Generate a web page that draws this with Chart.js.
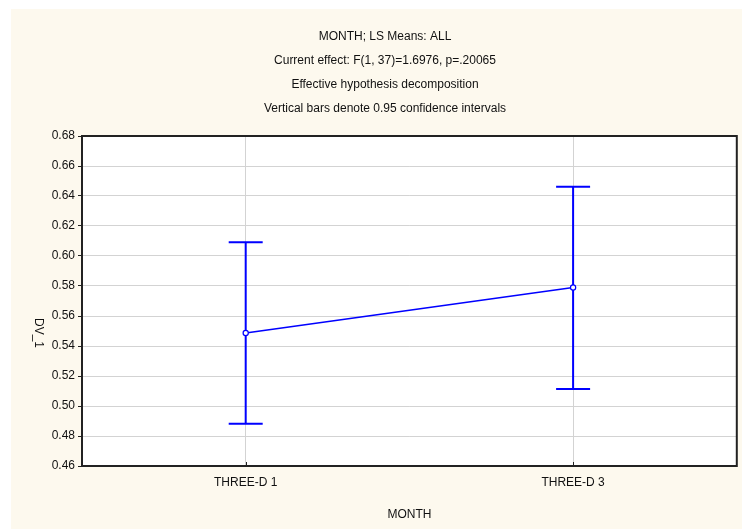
<!DOCTYPE html>
<html>
<head>
<meta charset="utf-8">
<script src="https://cdn.jsdelivr.net/npm/chart.js@4/dist/chart.umd.min.js"></script>
<style>
  html, body { margin: 0; padding: 0; background: #ffffff; }
  #wrap { width: 742px; height: 529px; }
</style>
</head>
<body>
<div id="wrap"><canvas id="c" width="742" height="529"></canvas></div>
<script>
// LS means of DV_1 by month, with 0.95 confidence limits
const months = ['THREE-D 1', 'THREE-D 3'];
const lsMeans = [0.5487, 0.579];
const ciLower = [0.4882, 0.5113];
const ciUpper = [0.6091, 0.6462];

const titleLines = [
  'MONTH; LS Means: ALL',
  'Current effect: F(1, 37)=1.6976, p=.20065',
  'Effective hypothesis decomposition',
  'Vertical bars denote 0.95 confidence intervals'
];
const xAxisTitle = 'MONTH';
const yAxisTitle = 'DV_1';
const yMin = 0.46, yMax = 0.68, yStep = 0.02;

const FONT_FAMILY = '"Liberation Sans", Arial, sans-serif';
const BLUE = '#0000FF';
const INK = '#111111';

// cream page behind the whole graph
const backdrop = {
  id: 'backdrop',
  beforeDraw(chart) {
    const ctx = chart.ctx;
    ctx.save();
    ctx.fillStyle = '#ffffff';
    ctx.fillRect(0, 0, chart.width, chart.height);
    ctx.fillStyle = '#FDF9EE';
    ctx.fillRect(11, 9, chart.width - 11, chart.height - 9);
    const a = chart.chartArea;
    ctx.fillStyle = '#ffffff';
    ctx.fillRect(a.left, a.top, a.right - a.left, a.bottom - a.top);
    ctx.restore();
  }
};

// vertical confidence bars with caps, drawn under the line and markers
const errorBars = {
  id: 'errorBars',
  beforeDatasetsDraw(chart) {
    const ctx = chart.ctx, xs = chart.scales.x, ys = chart.scales.y;
    ctx.save();
    ctx.strokeStyle = BLUE;
    ctx.lineWidth = 2;
    months.forEach((m, i) => {
      const x = xs.getPixelForValue(i);
      const yl = ys.getPixelForValue(ciLower[i]);
      const yu = ys.getPixelForValue(ciUpper[i]);
      ctx.beginPath();
      ctx.moveTo(x, yl); ctx.lineTo(x, yu);
      ctx.moveTo(x - 17, yu); ctx.lineTo(x + 17, yu);
      ctx.moveTo(x - 17, yl); ctx.lineTo(x + 17, yl);
      ctx.stroke();
    });
    ctx.restore();
  }
};

// heading block, frame around the plot, small inner ticks and the y title
const decorations = {
  id: 'decorations',
  afterDraw(chart) {
    const ctx = chart.ctx, a = chart.chartArea, xs = chart.scales.x;
    ctx.save();
    ctx.fillStyle = INK;
    ctx.font = '12px ' + FONT_FAMILY;
    ctx.textAlign = 'center';
    ctx.textBaseline = 'middle';
    const ys = [37, 61, 85, 109];
    titleLines.forEach((t, i) => ctx.fillText(t, 385, ys[i]));

    ctx.strokeStyle = '#222222';
    ctx.lineWidth = 2;
    ctx.strokeRect(a.left, a.top, a.right - a.left, a.bottom - a.top);

    ctx.lineWidth = 1;
    months.forEach((m, i) => {
      const x = Math.round(xs.getPixelForValue(i)) + 0.5;
      ctx.beginPath();
      ctx.moveTo(x, a.bottom);
      ctx.lineTo(x, a.bottom - 4);
      ctx.stroke();
    });

    ctx.translate(38, (a.top + a.bottom) / 2 + 32);
    ctx.rotate(Math.PI / 2);
    ctx.fillText(yAxisTitle, 0, 0);
    ctx.restore();
  }
};

const axisFont = { family: FONT_FAMILY, size: 12 };

new Chart(document.getElementById('c'), {
  type: 'line',
  data: {
    labels: months,
    datasets: [{
      data: lsMeans,
      borderColor: BLUE,
      borderWidth: 1.6,
      tension: 0,
      pointRadius: 2.6,
      pointBackgroundColor: '#ffffff',
      pointBorderColor: BLUE,
      pointBorderWidth: 1.2
    }]
  },
  options: {
    responsive: false,
    animation: false,
    devicePixelRatio: 1,
    layout: { padding: { left: 0, top: 136, right: 4, bottom: 0 } },
    plugins: {
      legend: { display: false },
      title: { display: false },
      tooltip: { enabled: false }
    },
    scales: {
      x: {
        type: 'category',
        offset: true,
        grid: { offset: false, color: '#D3D3D3', lineWidth: 1, drawTicks: false },
        border: { color: '#222222', width: 2 },
        ticks: { font: axisFont, color: INK, padding: 9 },
        title: { display: true, text: xAxisTitle, font: axisFont, color: INK, padding: { top: 0, bottom: 7 } },
        afterFit(s) { s.height = 63; }
      },
      y: {
        min: yMin,
        max: yMax,
        grid: { color: '#D3D3D3', lineWidth: 1, tickColor: '#222222', tickLength: 4 },
        border: { color: '#222222', width: 2 },
        ticks: {
          stepSize: yStep,
          font: axisFont,
          color: INK,
          padding: 3,
          callback: v => Number(v).toFixed(2)
        },
        afterFit(s) { s.width = 82; }
      }
    }
  },
  plugins: [backdrop, errorBars, decorations]
});
</script>
</body>
</html>
